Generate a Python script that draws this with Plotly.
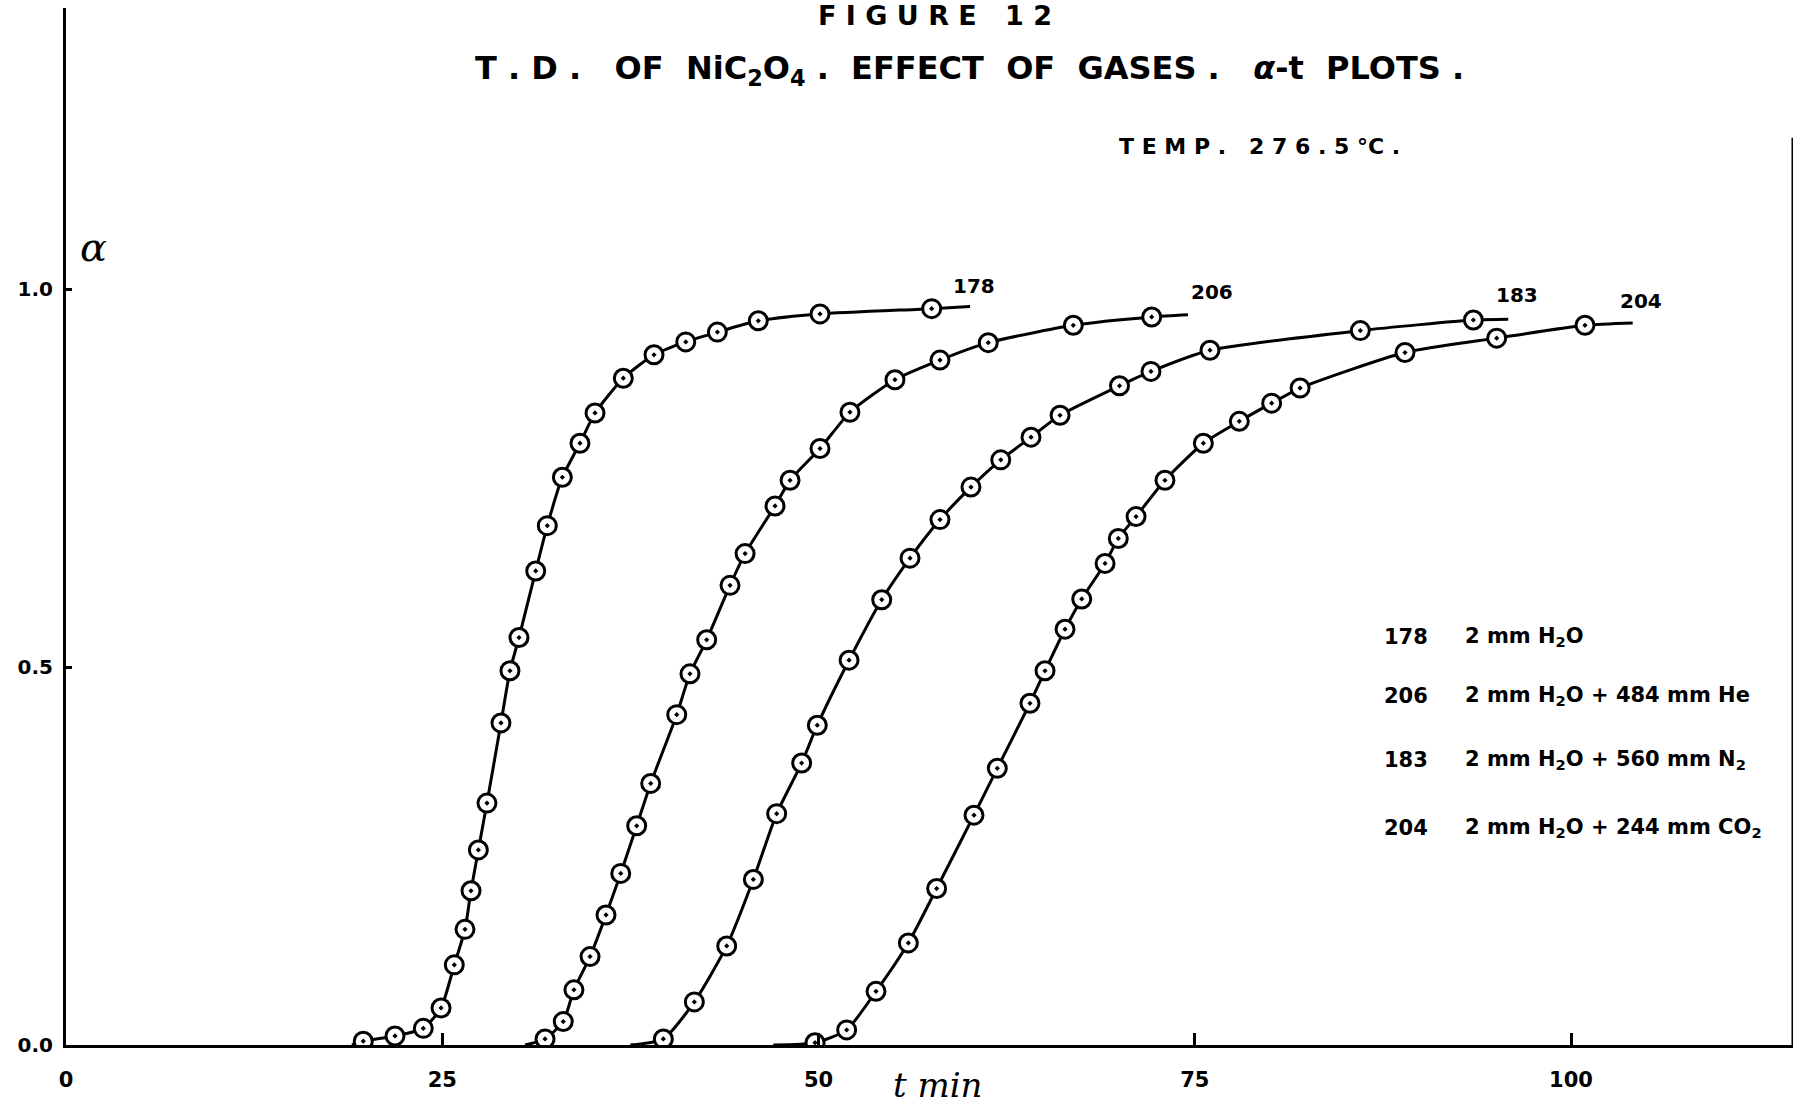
import plotly.graph_objects as go

# ---- data (t in min, alpha) ----
t_178 = [19.75, 21.86, 23.74, 24.92, 25.80, 26.51, 26.91, 27.40, 27.97, 28.90, 29.50,
         30.10, 31.21, 31.98, 32.98, 34.15, 35.15, 37.03, 39.07, 41.18, 43.28, 46.0, 50.10, 57.52]
a_178 = [0.005, 0.012, 0.022, 0.049, 0.106, 0.153, 0.204, 0.258, 0.320, 0.426, 0.495,
         0.539, 0.627, 0.687, 0.751, 0.796, 0.836, 0.882, 0.913, 0.930, 0.943, 0.958, 0.967, 0.974]

t_206 = [31.83, 33.04, 33.75, 34.82, 35.88, 36.86, 37.92, 38.85, 40.58, 41.46, 42.57,
         44.12, 45.12, 47.11, 48.11, 50.10, 52.09, 55.08, 58.07, 61.28, 66.93, 72.14]
a_206 = [0.008, 0.031, 0.073, 0.117, 0.172, 0.227, 0.290, 0.346, 0.437, 0.491, 0.536,
         0.608, 0.650, 0.713, 0.747, 0.789, 0.837, 0.880, 0.906, 0.929, 0.952, 0.963]

t_183 = [39.69, 41.75, 43.90, 45.67, 47.22, 48.88, 49.92, 52.03, 54.20, 56.08, 58.07,
         60.13, 62.11, 64.12, 66.05, 70.0, 72.09, 76.01, 86.0, 93.51]
a_183 = [0.008, 0.057, 0.131, 0.219, 0.306, 0.373, 0.423, 0.509, 0.589, 0.644, 0.695,
         0.738, 0.774, 0.804, 0.833, 0.872, 0.891, 0.919, 0.945, 0.959]

t_204 = [49.77, 51.87, 53.82, 55.97, 57.85, 60.33, 61.88, 64.05, 65.05, 66.38, 67.49,
         69.04, 69.92, 71.10, 73.02, 75.57, 77.96, 80.11, 82.0, 88.97, 95.06, 100.93]
a_204 = [0.003, 0.020, 0.071, 0.135, 0.207, 0.304, 0.366, 0.452, 0.495, 0.550, 0.590,
         0.637, 0.670, 0.699, 0.747, 0.796, 0.825, 0.849, 0.869, 0.916, 0.935, 0.952]

# where each drawn curve starts and ends (t, alpha)
line_start = {"178": (19.0, 0.0), "206": (30.5, 0.0), "183": (37.5, 0.0), "204": (47.0, 0.0)}
line_end = {"178": (60.07, 0.977), "206": (74.55, 0.966), "183": (95.83, 0.960), "204": (104.1, 0.955)}

run_ids = ["178", "206", "183", "204"]
run_desc = ["2 mm H<sub>2</sub>O",
            "2 mm H<sub>2</sub>O + 484 mm He",
            "2 mm H<sub>2</sub>O + 560 mm N<sub>2</sub>",
            "2 mm H<sub>2</sub>O + 244 mm CO<sub>2</sub>"]

x_ticks = [0, 25, 50, 75, 100]
y_ticks = [0.0, 0.5, 1.0]
y_ticktext = ["0.0", "0.5", "1.0"]

series = {"178": (t_178, a_178), "206": (t_206, a_206), "183": (t_183, a_183), "204": (t_204, a_204)}

FONT = "DejaVu Sans"
fig = go.Figure()

for rid in run_ids:
    t, a = series[rid]
    xs = [line_start[rid][0]] + t + [line_end[rid][0]]
    ys = [line_start[rid][1]] + a + [line_end[rid][1]]
    fig.add_trace(go.Scatter(x=xs, y=ys, mode="lines",
                             line=dict(color="black", width=3, shape="spline", smoothing=0.6),
                             showlegend=False, hoverinfo="skip"))
    fig.add_trace(go.Scatter(x=t, y=a, mode="markers", name=rid,
                             marker=dict(symbol="circle-dot", size=18, color="white",
                                         line=dict(color="black", width=3)),
                             showlegend=False))

# curve end labels
label_pos = {"178": (58.8, 0.985), "206": (74.6, 0.978), "183": (94.9, 0.974), "204": (103.1, 0.965)}
for rid in run_ids:
    x, y = label_pos[rid]
    fig.add_annotation(x=x, y=y, text="<b>" + rid + "</b>", showarrow=False,
                       xanchor="left", yanchor="bottom", font=dict(size=20, family=FONT, color="black"))

# key of runs
key_y = [0.540, 0.462, 0.377, 0.287]
for rid, desc, ky in zip(run_ids, run_desc, key_y):
    fig.add_annotation(x=90.6, y=ky, text="<b>" + rid + "</b>", showarrow=False,
                       xanchor="right", yanchor="middle", font=dict(size=21, family=FONT, color="black"))
    fig.add_annotation(x=92.8, y=ky, text="<b>" + desc + "</b>", showarrow=False,
                       xanchor="left", yanchor="middle", font=dict(size=21, family=FONT, color="black"))

# titles
fig.add_annotation(xref="paper", yref="paper", x=0.503, y=1.0, yanchor="top", yshift=10,
                   text="<b>F I G U R E   1 2</b>", showarrow=False,
                   font=dict(size=27, family=FONT, color="black"))
fig.add_annotation(x=60.0, y=1.29,
                   text="<b>T . D .   OF  NiC<sub>2</sub>O<sub>4</sub> .  EFFECT  OF  GASES .   <i>α</i>-t  PLOTS .</b>",
                   showarrow=False, xanchor="center", yanchor="middle",
                   font=dict(size=32, family=FONT, color="black"))
fig.add_annotation(x=79.3, y=1.188, text="<b>T E M P .   2 7 6 . 5 °C .</b>", showarrow=False,
                   xanchor="center", yanchor="middle", font=dict(size=22, family=FONT, color="black"))

# axis titles
fig.add_annotation(x=1.8, y=1.055, text="<i>α</i>", showarrow=False, xanchor="center", yanchor="middle",
                   font=dict(size=40, family="DejaVu Serif", color="black"))
fig.add_annotation(xref="x", yref="paper", x=57.9, y=0, yshift=-40, text="<i>t min</i>", showarrow=False,
                   xanchor="center", yanchor="middle", font=dict(size=34, family="DejaVu Serif", color="black"))

# right frame line
fig.add_shape(type="line", x0=114.75, x1=114.75, y0=0, y1=1.2, xref="x", yref="y",
              line=dict(color="black", width=3))

fig.update_xaxes(range=[0, 114.75], showgrid=False, zeroline=False, showline=True, linecolor="black",
                 linewidth=3, ticks="inside", ticklen=12, tickwidth=3, tickcolor="black",
                 tickvals=x_ticks, ticktext=["<b>" + str(v) + "</b>" for v in x_ticks], ticklabelstandoff=14,
                 tickfont=dict(size=21, family=FONT, color="black"))
fig.update_yaxes(range=[0, 1.3717], showgrid=False, zeroline=False, showline=True, linecolor="black",
                 linewidth=3, ticks="inside", ticklen=6, tickwidth=3, tickcolor="black",
                 tickvals=y_ticks, ticktext=["<b>" + s + "</b>" for s in y_ticktext], ticklabelstandoff=6,
                 tickfont=dict(size=20, family=FONT, color="black"))

fig.update_layout(width=1797, height=1110, margin=dict(l=66, r=4, t=8, b=65),
                  plot_bgcolor="white", paper_bgcolor="white", showlegend=False)

fig.write_html("out.html", include_plotlyjs=True)
